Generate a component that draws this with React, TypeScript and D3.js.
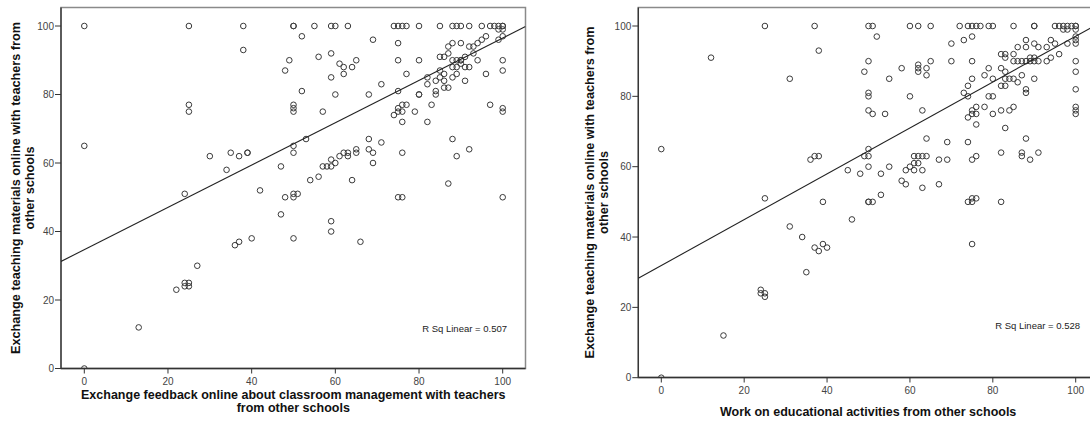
import React from "react";
import * as d3 from "d3";

// Panel 1: feedback on classroom management (x) vs. exchanging teaching materials (y)
const feedbackX: number[] = [
  0, 0, 0, 25, 38, 38, 25, 25, 30, 35, 37, 39, 39, 34, 42, 24,
  36, 37, 40, 27, 22, 24, 25, 24, 25, 13,
  50, 50, 55, 59, 60, 63, 74, 75, 76, 77, 80, 85, 88, 89, 90, 92, 95, 97, 98, 99, 100, 100,
  52, 69, 75, 49, 48, 56, 59, 61, 62, 62, 64, 65, 59, 52, 60, 68, 71, 75, 80, 77, 75, 80, 80,
  82, 82, 84, 84, 85, 86, 87, 87, 88, 90, 88, 89, 90, 90, 91, 92, 93, 94, 95, 96, 93, 94, 91,
  92, 89, 88, 90, 85, 86, 85, 84, 86, 86, 87, 88, 89, 91, 96, 100, 100, 99, 100, 100, 99, 97,
  100, 100, 50, 50, 50, 57, 53, 50, 50, 47, 54, 56, 57, 58, 59, 59, 60, 61, 62, 63, 63, 65, 65,
  64, 68, 71, 68, 69, 69, 76, 74, 75, 76, 75, 76, 77, 76, 79, 82, 83, 88, 89, 92, 87, 100, 75,
  76, 50, 51, 50, 48, 47, 50, 59, 59, 66,
];
const feedbackY: number[] = [
  100, 65, 0, 100, 100, 93, 77, 75, 62, 63, 62, 63, 63, 58, 52, 51,
  36, 37, 38, 30, 23, 24, 24, 25, 25, 12,
  100, 100, 100, 100, 100, 100, 100, 100, 100, 100, 100, 100, 100, 100, 100, 100, 100, 100, 100, 100, 100, 100,
  97, 96, 95, 90, 87, 91, 92, 89, 88, 86, 88, 90, 85, 81, 80, 80, 83, 90, 90, 86, 81, 80, 80,
  85, 83, 81, 80, 91, 91, 92, 94, 95, 95, 90, 90, 90, 90, 91, 94, 94, 95, 96, 97, 92, 90, 88,
  88, 88, 88, 89, 87, 86, 85, 84, 84, 82, 82, 85, 86, 84, 86, 90, 87, 96, 97, 99, 99, 77,
  76, 75, 77, 76, 75, 75, 67, 65, 63, 59, 55, 56, 59, 59, 59, 61, 60, 62, 63, 63, 62, 64, 63,
  55, 67, 66, 64, 63, 60, 63, 74, 75, 75, 76, 77, 77, 72, 75, 72, 77, 67, 62, 64, 54, 50, 50,
  50, 51, 51, 50, 50, 45, 38, 43, 40, 37,
];

// Panel 2: work on educational activities (x) vs. exchanging teaching materials (y)
const activitiesX: number[] = [
  0, 12, 25, 37, 38, 31, 36, 37, 38, 25, 39, 31, 34, 37, 38, 39, 40, 35, 24, 24, 25, 25, 15, 0,
  46, 50, 50, 51, 53, 74, 75, 75, 76, 82, 75,
  50, 51, 60, 62, 65, 72, 74, 75, 76, 77, 79, 80, 85, 90, 90, 95, 96, 97, 98, 99, 100, 100, 97, 98, 100,
  52, 50, 49, 55, 58, 62, 62, 62, 64, 64, 65, 70, 75, 70, 73, 75, 50, 50, 60, 50, 51, 54, 63,
  64, 69, 74, 50, 50, 49, 45, 48, 50, 53, 55, 58, 59, 59, 60, 61, 61, 62, 63, 64, 62, 61, 63,
  63, 67, 67, 69, 75, 76, 82, 87, 87, 89, 91, 88, 83, 76, 74, 75, 76, 75, 76, 78, 80, 82, 84,
  85, 73, 74, 79, 80, 74, 75, 78, 80, 79, 82, 82, 83, 83, 84, 85, 86, 87, 88, 88, 90, 83, 82,
  83, 85, 83, 85, 86, 87, 88, 89, 90, 91, 89, 90, 93, 94, 96, 86, 88, 88, 90, 91, 93, 94, 95,
  98, 100, 100, 100, 100, 100, 100, 100, 100, 100,
];
const activitiesY: number[] = [
  65, 91, 100, 100, 93, 85, 62, 63, 63, 51, 50, 43, 40, 37, 36, 38, 37, 30, 25, 24, 24, 23, 12, 0,
  45, 50, 50, 50, 52, 50, 50, 51, 51, 50, 38,
  100, 100, 100, 100, 100, 100, 100, 100, 100, 100, 100, 100, 100, 100, 100, 100, 100, 100, 100, 100, 100, 100, 99, 99, 99,
  97, 90, 87, 85, 88, 89, 88, 87, 88, 86, 90, 90, 90, 95, 96, 97, 81, 80, 80, 76, 75, 75, 76,
  68, 67, 67, 65, 63, 63, 59, 58, 60, 58, 60, 56, 55, 59, 60, 61, 63, 63, 63, 63, 61, 59, 59,
  54, 55, 62, 62, 62, 63, 64, 64, 63, 62, 64, 68, 71, 72, 74, 75, 75, 76, 77, 77, 75, 76, 76,
  77, 81, 80, 80, 80, 83, 85, 86, 85, 88, 88, 83, 83, 85, 85, 85, 84, 86, 82, 81, 85, 87, 92,
  92, 92, 91, 90, 90, 90, 90, 90, 90, 90, 91, 91, 90, 91, 92, 94, 94, 96, 95, 94, 94, 96, 95,
  95, 95, 96, 97, 90, 87, 82, 77, 76, 75,
];

const xTicks: number[] = [0, 20, 40, 60, 80, 100];
const yTicks: number[] = [0, 20, 40, 60, 80, 100];

const yTitleLines: string[] = ["Exchange teaching materials online with teachers from", "other schools"];
const feedbackTitleLines: string[] = [
  "Exchange feedback online about classroom management with teachers",
  "from other schools",
];
const activitiesTitleLines: string[] = ["Work on educational activities from other schools"];

// Fitted linear trends (intercept, slope) and their R² values
const feedbackFit: number[] = [34.7, 0.618];
const activitiesFit: number[] = [31.9, 0.652];
const feedbackR2 = 0.507;
const activitiesR2 = 0.528;

const FONT = "'Liberation Sans', Arial, Helvetica, sans-serif";

type PanelProps = {
  xs: number[];
  ys: number[];
  fit: number[];
  r2: number;
  xTitle: string[];
  // pixel geometry
  x0: number; x100: number; y0: number; y100: number;
  left: number; right: number; top: number; bottom: number;
  yTitleX: number;
  xTitleY: number;
  r2X: number; r2Y: number;
};

function Panel(p: PanelProps) {
  const x = d3.scaleLinear().domain([0, 100]).range([p.x0, p.x100]);
  const y = d3.scaleLinear().domain([0, 100]).range([p.y0, p.y100]);
  const xMin = x.invert(p.left);
  const xMax = x.invert(p.right);
  const line = d3.line<number>()
    .x((v) => x(v))
    .y((v) => y(p.fit[0] + p.fit[1] * v));
  const cy = (p.top + p.bottom) / 2;
  const cx = (p.left + p.right) / 2;
  const clipId = `clip-${Math.round(p.left)}`;
  return (
    <g>
      <defs>
        <clipPath id={clipId}>
          <rect x={p.left} y={p.top} width={p.right - p.left} height={p.bottom - p.top} />
        </clipPath>
      </defs>
      <rect x={p.left} y={p.top} width={p.right - p.left} height={p.bottom - p.top}
        fill="#fff" stroke="#8a8a8a" strokeWidth={1.5} />
      <line x1={p.left} x2={p.left} y1={p.top} y2={p.bottom} stroke="#333" strokeWidth={1.3} />
      <line x1={p.left} x2={p.right} y1={p.bottom} y2={p.bottom} stroke="#333" strokeWidth={1.3} />
      {yTicks.map((t) => (
        <g key={"y" + t}>
          <line x1={p.left - 6} x2={p.left} y1={y(t)} y2={y(t)} stroke="#333" strokeWidth={1} />
          <text x={p.left - 7} y={y(t) + 3.5} textAnchor="end" fontSize={10} fill="#444" fontFamily={FONT}>{t}</text>
        </g>
      ))}
      {xTicks.map((t) => (
        <g key={"x" + t}>
          <line x1={x(t)} x2={x(t)} y1={p.bottom} y2={p.bottom + 5} stroke="#333" strokeWidth={1} />
          <text x={x(t)} y={p.bottom + 16.5} textAnchor="middle" fontSize={10} fill="#444" fontFamily={FONT}>{t}</text>
        </g>
      ))}
      <g clipPath={`url(#${clipId})`}>
        {p.xs.map((v, i) => (
          <circle key={i} cx={x(v)} cy={y(p.ys[i])} r={2.8} fill="none" stroke="#3a3a3a" strokeWidth={1} />
        ))}
        <path d={line([xMin, xMax]) || ""} fill="none" stroke="#222" strokeWidth={1.1} />
      </g>
      <text x={p.r2X} y={p.r2Y} textAnchor="end" fontSize={9.5} fill="#222" fontFamily={FONT}>
        {`R Sq Linear = ${p.r2.toFixed(3)}`}
      </text>
      <text transform={`translate(${p.yTitleX},${cy}) rotate(-90)`} textAnchor="middle"
        fontSize={12.7} fontWeight="bold" fill="#111" fontFamily={FONT}>
        {yTitleLines.map((s, i) => (
          <tspan key={i} x={0} dy={i === 0 ? 0 : 14}>{s}</tspan>
        ))}
      </text>
      <text x={cx} y={p.xTitleY} textAnchor="middle" fontSize={12.5} fontWeight="bold" fill="#111" fontFamily={FONT}>
        {p.xTitle.map((s, i) => (
          <tspan key={i} x={cx} dy={i === 0 ? 0 : 13.5}>{s}</tspan>
        ))}
      </text>
    </g>
  );
}

export default function App() {
  return (
    <svg width={1090} height={421} style={{ position: "absolute", left: 0, top: 0, background: "#fff" }}>
      <rect width={1090} height={421} fill="#fff" />
      <Panel
        xs={feedbackX} ys={feedbackY} fit={feedbackFit} r2={feedbackR2} xTitle={feedbackTitleLines}
        x0={84.3} x100={502.7} y0={368.5} y100={26}
        left={61} right={525.5} top={7.5} bottom={368.5}
        yTitleX={20} xTitleY={398.5} r2X={507} r2Y={332}
      />
      <Panel
        xs={activitiesX} ys={activitiesY} fit={activitiesFit} r2={activitiesR2} xTitle={activitiesTitleLines}
        x0={661.3} x100={1075.7} y0={377.7} y100={26}
        left={638.3} right={1098} top={7.5} bottom={377.5}
        yTitleX={594} xTitleY={416} r2X={1080} r2Y={329}
      />
    </svg>
  );
}
